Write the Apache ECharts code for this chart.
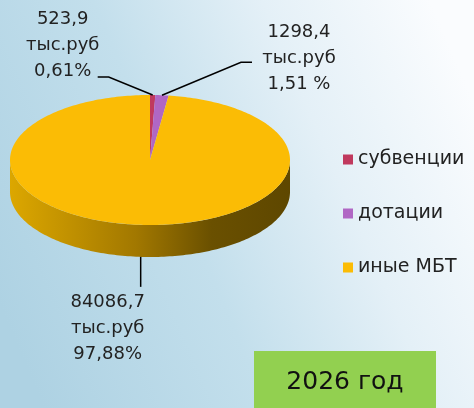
<!DOCTYPE html>
<html>
<head>
<meta charset="utf-8">
<script src="https://cdn.jsdelivr.net/npm/echarts@6/dist/echarts.min.js"></script>
<style>
  html, body { margin: 0; padding: 0; }
  #main { width: 474px; height: 408px; }
</style>
</head>
<body>
<div id="main"></div>
<script>
// данные
var categories = ['субвенции', 'дотации', 'иные МБТ'];
var values = [523.9, 1298.4, 84086.7];
var pctLabels = ['0,61%', '1,51 %', '97,88%'];
var unit = 'тыс.руб';
var yearLabel = '2026 год';

var colors = ['#C0395E', '#B067C4', '#FBBC05'];
var font = 'DejaVu Sans';
var pie = { cx: 150, cy: 160, rx: 140, ry: 65, depth: 32 };
// смещения подписей от точки на секторе
var labelLayout = [
  { elbow: [-44, -18], end: [-55, -18], text: [-90, -50] },
  { elbow: [79, -33], end: [90, -33], text: [137, -37] },
  { elbow: [0, 30], end: [0, 30], text: [-33, 71] }
];

var total = values.reduce(function (a, b) { return a + b; }, 0);
var starts = [];
var acc = 0;
values.forEach(function (v) { starts.push(acc); acc += v; });

function pt(t, dy) {
  return [pie.cx + pie.rx * Math.sin(t), pie.cy - pie.ry * Math.cos(t) + (dy || 0)];
}
function arc(a0, a1, dy) {
  var n = Math.max(2, Math.ceil((a1 - a0) / 0.02));
  var pts = [];
  for (var i = 0; i <= n; i++) pts.push(pt(a0 + (a1 - a0) * i / n, dy));
  return pts;
}

var wallFill = new echarts.graphic.LinearGradient(pie.cx - pie.rx, 0, pie.cx + pie.rx, 0, [
  { offset: 0, color: '#DCA700' },
  { offset: 0.45, color: '#A27800' },
  { offset: 0.72, color: '#6A5000' },
  { offset: 1, color: '#5E4700' }
], true);

function renderSlice(idx) {
  return function (params, api) {
    var v = api.value(0);
    var a0 = starts[idx] / total * Math.PI * 2;
    var a1 = a0 + v / total * Math.PI * 2;
    var children = [];
    // боковая стенка (передняя половина)
    var w0 = Math.max(a0, Math.PI / 2), w1 = Math.min(a1, Math.PI * 1.5);
    if (w1 > w0) {
      var wall = arc(w0, w1, 0).concat(arc(w0, w1, pie.depth).reverse());
      children.push({ type: 'polygon', shape: { points: wall }, style: { fill: wallFill } });
    }
    // верх
    children.push({
      type: 'polygon',
      shape: { points: [[pie.cx, pie.cy]].concat(arc(a0, a1, 0)) },
      style: { fill: colors[idx] }
    });
    // подпись
    var am = (a0 + a1) / 2;
    var p = pt(am, Math.cos(am) < 0 ? pie.depth : 0);
    var L = labelLayout[idx];
    children.push({
      type: 'polyline',
      shape: { points: [p, [p[0] + L.elbow[0], p[1] + L.elbow[1]], [p[0] + L.end[0], p[1] + L.end[1]]] },
      style: { stroke: '#000', lineWidth: 1.5, fill: null }
    });
    children.push({
      type: 'text',
      x: p[0] + L.text[0],
      y: p[1] + L.text[1],
      style: {
        text: String(v).replace('.', ',') + '\n' + unit + '\n' + pctLabels[idx],
        fill: '#222',
        font: '18px "' + font + '"',
        lineHeight: 26,
        align: 'center',
        verticalAlign: 'middle'
      }
    });
    return { type: 'group', children: children };
  };
}

var chart = echarts.init(document.getElementById('main'));
var series = categories.map(function (name, i) {
  return {
    type: 'custom',
    name: name,
    coordinateSystem: 'none',
    itemStyle: { color: colors[i] },
    renderItem: renderSlice(i),
    data: [[values[i]]],
    silent: true
  };
});

chart.setOption({
  animation: false,
  legend: {
    orient: 'vertical',
    left: 338,
    top: 145,
    icon: 'rect',
    itemWidth: 10,
    itemHeight: 10,
    itemGap: 35,
    selectedMode: false,
    textStyle: { fontSize: 19, color: '#222', fontFamily: font },
    data: categories
  },
  graphic: [
    {
      type: 'rect', z: -10,
      shape: { x: 0, y: 0, width: 474, height: 408 },
      style: {
        fill: new echarts.graphic.LinearGradient(0, 0.75, 1, 0.25, [
          { offset: 0, color: '#AED2E3' },
          { offset: 0.4, color: '#C3DFEC' },
          { offset: 0.7, color: '#E4F0F7' },
          { offset: 1, color: '#FAFCFE' }
        ])
      }
    },
    {
      type: 'rect', z: 5,
      shape: { x: 254, y: 351, width: 182, height: 60 },
      style: { fill: '#92D050' }
    },
    {
      type: 'text', z: 6,
      x: 345, y: 382,
      style: {
        text: yearLabel, fill: '#111', font: '25px "' + font + '"',
        align: 'center', verticalAlign: 'middle'
      }
    }
  ],
  series: series
});
</script>
</body>
</html>
